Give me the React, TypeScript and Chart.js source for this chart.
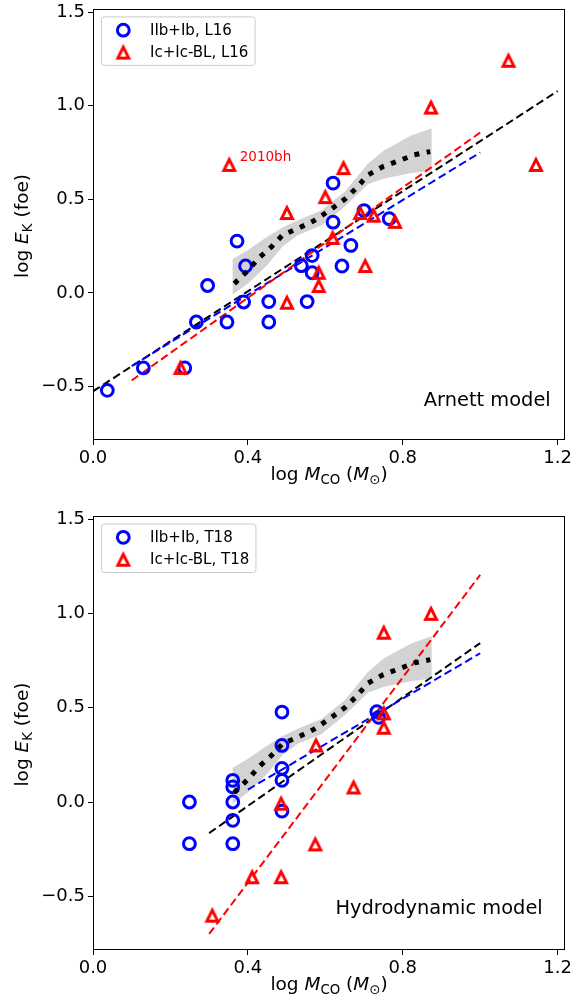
import React, { useEffect, useRef } from "react";
import { Chart, registerables } from "chart.js";

Chart.register(...registerables);

const FONT = '"DejaVu Sans", "Liberation Sans", sans-serif';

// ---- axes ----
const xTicks = [0.0, 0.4, 0.8, 1.2];
const yTicks = [-0.5, 0.0, 0.5, 1.0, 1.5];
const xMin = 0.0;
const xMax = 1.219;
const yMin = -0.785;
const yMax = 1.517;

// ---- model band (same in both panels) ----
const bandX = [0.36, 0.4, 0.45, 0.49, 0.53, 0.59, 0.65, 0.71, 0.75, 0.82, 0.875];
const bandUpper = [0.18, 0.23, 0.3, 0.35, 0.39, 0.44, 0.54, 0.69, 0.76, 0.84, 0.88];
const bandLower = [-0.01, 0.05, 0.15, 0.25, 0.31, 0.36, 0.46, 0.58, 0.61, 0.64, 0.655];
const modelLineX = [0.365, 0.4, 0.43, 0.46, 0.49, 0.53, 0.57, 0.61, 0.65, 0.68, 0.71, 0.75, 0.79, 0.83, 0.871];
const modelLineY = [0.05, 0.12, 0.19, 0.245, 0.31, 0.345, 0.385, 0.44, 0.5, 0.56, 0.63, 0.676, 0.706, 0.738, 0.755];

// ---- top panel: Arnett model, L16 ----
const arnettIIbX = [0.037, 0.13, 0.237, 0.267, 0.296, 0.346, 0.372, 0.394, 0.389, 0.454, 0.454, 0.538, 0.553, 0.566, 0.566, 0.62, 0.62, 0.643, 0.666, 0.7, 0.765];
const arnettIIbY = [-0.52, -0.4, -0.4, -0.155, 0.04, -0.155, 0.277, 0.144, -0.048, -0.046, -0.155, 0.146, -0.046, 0.2, 0.108, 0.587, 0.378, 0.144, 0.254, 0.44, 0.397];
const arnettIcX = [0.226, 0.352, 0.501, 0.501, 0.583, 0.583, 0.6, 0.619, 0.647, 0.69, 0.703, 0.725, 0.78, 0.873, 1.073, 1.144];
const arnettIcY = [-0.4, 0.684, 0.427, -0.052, 0.108, 0.037, 0.512, 0.294, 0.667, 0.427, 0.144, 0.413, 0.38, 0.99, 1.24, 0.684];
const arnettFitAllX = [0.0, 1.2];
const arnettFitAllY = [-0.525, 1.078];
const arnettFitIIbX = [0.1, 1.0];
const arnettFitIIbY = [-0.39, 0.75];
const arnettFitIcX = [0.1, 1.0];
const arnettFitIcY = [-0.467, 0.857];
const arnettNoteText = "2010bh";
const arnettNoteX = 0.379;
const arnettNoteY = 0.707;

// ---- bottom panel: Hydrodynamic model, T18 ----
const hydroIIbX = [0.249, 0.249, 0.361, 0.361, 0.361, 0.361, 0.361, 0.488, 0.488, 0.488, 0.488, 0.488, 0.733, 0.738];
const hydroIIbY = [0.0, -0.221, 0.115, 0.08, 0.0, -0.097, -0.221, 0.477, 0.3, 0.178, 0.115, -0.048, 0.479, 0.449];
const hydroIcX = [0.308, 0.411, 0.486, 0.486, 0.574, 0.576, 0.673, 0.751, 0.751, 0.751, 0.873];
const hydroIcY = [-0.603, -0.399, -0.399, -0.009, -0.225, 0.3, 0.077, 0.47, 0.394, 0.898, 0.998];
const hydroFitAllX = [0.3, 1.0];
const hydroFitAllY = [-0.165, 0.843];
const hydroFitIIbX = [0.4, 1.0];
const hydroFitIIbY = [0.066, 0.789];
const hydroFitIcX = [0.3, 1.0];
const hydroFitIcY = [-0.7, 1.205];

const BLUE = "#0000ff";
const RED = "#ff0000";

type Part = { t: string; it?: boolean; sub?: boolean };

function drawRich(ctx: CanvasRenderingContext2D, parts: Part[], x: number, y: number, size: number) {
  const fontOf = (p: Part) => `${p.it ? "italic " : ""}${p.sub ? size * 0.72 : size}px ${FONT}`;
  let total = 0;
  const widths = parts.map((p) => {
    ctx.font = fontOf(p);
    const w = ctx.measureText(p.t).width;
    total += w;
    return w;
  });
  let cx = x - total / 2;
  ctx.textAlign = "left";
  ctx.textBaseline = "alphabetic";
  parts.forEach((p, i) => {
    ctx.font = fontOf(p);
    ctx.fillText(p.t, cx, y + (p.sub ? size * 0.2 : 0));
    cx += widths[i];
  });
}

function makeTriangle(half: number, lw: number, color: string) {
  const size = 22;
  const c = document.createElement("canvas");
  c.width = size;
  c.height = size;
  const g = c.getContext("2d")!;
  const m = size / 2;
  g.beginPath();
  g.moveTo(m, m - half);
  g.lineTo(m - half, m + half);
  g.lineTo(m + half, m + half);
  g.closePath();
  g.lineWidth = lw;
  g.strokeStyle = color;
  g.lineJoin = "miter";
  g.stroke();
  return c;
}

const xy = (xs: number[], ys: number[]) => xs.map((x, i) => ({ x, y: ys[i] }));

type PanelCfg = {
  iibX: number[]; iibY: number[]; icX: number[]; icY: number[];
  fitAllX: number[]; fitAllY: number[]; fitIIbX: number[]; fitIIbY: number[]; fitIcX: number[]; fitIcY: number[];
  legendBlue: string; legendRed: string;
  model: string; modelRightInset: number; modelBottomInset: number;
  topPad: number; xAxisHeight: number;
  note?: { text: string; x: number; y: number };
};

function buildChart(canvas: HTMLCanvasElement, cfg: PanelCfg) {
  const tri = makeTriangle(5.5, 2.9, RED);
  const dashed = (xs: number[], ys: number[], color: string, order: number) => ({
    data: xy(xs, ys),
    showLine: true,
    borderColor: color,
    borderWidth: 2,
    borderDash: [8, 4],
    pointRadius: 0,
    fill: false,
    order,
  });

  const overlay = {
    id: "overlay",
    afterDatasetsDraw(chart: any) {
      const ctx = chart.ctx as CanvasRenderingContext2D;
      const ca = chart.chartArea;
      ctx.save();
      ctx.strokeStyle = "#000";
      ctx.lineWidth = 1;
      ctx.strokeRect(Math.round(ca.left) + 0.5, Math.round(ca.top) + 0.5, Math.round(ca.right - ca.left) - 1, Math.round(ca.bottom - ca.top) - 1);
      ctx.restore();
    },
    afterDraw(chart: any) {
      const ctx = chart.ctx as CanvasRenderingContext2D;
      const ca = chart.chartArea;
      ctx.save();
      ctx.fillStyle = "#000";
      // x title
      drawRich(ctx, [
        { t: "log " }, { t: "M", it: true }, { t: "CO", sub: true }, { t: " (" }, { t: "M", it: true }, { t: "\u2299", sub: true }, { t: ")" },
      ], (ca.left + ca.right) / 2, ca.bottom + 40.4, 18.5);
      // y title
      ctx.save();
      ctx.translate(28, (ca.top + ca.bottom) / 2 + 1.5);
      ctx.rotate(-Math.PI / 2);
      drawRich(ctx, [{ t: "log " }, { t: "E", it: true }, { t: "K", sub: true }, { t: " (foe)" }], 0, 0, 18.5);
      ctx.restore();
      // model label
      ctx.font = `19.4px ${FONT}`;
      ctx.textAlign = "right";
      ctx.textBaseline = "alphabetic";
      ctx.fillText(cfg.model, ca.right - cfg.modelRightInset, ca.bottom - cfg.modelBottomInset);
      // annotation
      if (cfg.note) {
        const px = chart.scales.x.getPixelForValue(cfg.note.x);
        const py = chart.scales.y.getPixelForValue(cfg.note.y);
        ctx.fillStyle = RED;
        ctx.font = `13.5px ${FONT}`;
        ctx.textAlign = "left";
        ctx.fillText(cfg.note.text, px, py);
      }
      // legend
      ctx.font = `15px ${FONT}`;
      const tw = Math.max(ctx.measureText(cfg.legendBlue).width, ctx.measureText(cfg.legendRed).width);
      const bx = ca.left + 8.4;
      const by = ca.top + 8;
      const bw = 57 - 8.4 + tw + 6.7;
      const bh = 48.5;
      const r = 3;
      ctx.beginPath();
      ctx.moveTo(bx + r, by);
      ctx.lineTo(bx + bw - r, by);
      ctx.arcTo(bx + bw, by, bx + bw, by + r, r);
      ctx.lineTo(bx + bw, by + bh - r);
      ctx.arcTo(bx + bw, by + bh, bx + bw - r, by + bh, r);
      ctx.lineTo(bx + r, by + bh);
      ctx.arcTo(bx, by + bh, bx, by + bh - r, r);
      ctx.lineTo(bx, by + r);
      ctx.arcTo(bx, by, bx + r, by, r);
      ctx.closePath();
      ctx.fillStyle = "rgba(255,255,255,0.8)";
      ctx.fill();
      ctx.strokeStyle = "#cccccc";
      ctx.lineWidth = 1;
      ctx.stroke();
      // markers
      ctx.beginPath();
      ctx.arc(ca.left + 30.3, by + 13.3, 5.9, 0, Math.PI * 2);
      ctx.strokeStyle = BLUE;
      ctx.lineWidth = 3;
      ctx.stroke();
      ctx.drawImage(tri, ca.left + 30.3 - tri.width / 2, by + 35.7 - tri.height / 2);
      ctx.fillStyle = "#000";
      ctx.textAlign = "left";
      ctx.font = `15px ${FONT}`;
      ctx.fillText(cfg.legendBlue, ca.left + 57, by + 18.3);
      ctx.fillText(cfg.legendRed, ca.left + 57, by + 40);
      ctx.restore();
    },
  };

  const fmt = (v: number) => v.toFixed(1).replace("-", "\u2212");

  return new Chart(canvas, {
    type: "scatter",
    data: {
      datasets: [
        {
          data: xy(bandX, bandUpper),
          showLine: true,
          borderWidth: 0,
          pointRadius: 0,
          backgroundColor: "#d3d3d3",
          fill: { target: 1 },
          order: 10,
        } as any,
        {
          data: xy(bandX, bandLower),
          showLine: true,
          borderWidth: 0,
          pointRadius: 0,
          fill: false,
          order: 11,
        },
        dashed(cfg.fitAllX, cfg.fitAllY, "#000000", 5),
        dashed(cfg.fitIIbX, cfg.fitIIbY, BLUE, 4),
        dashed(cfg.fitIcX, cfg.fitIcY, RED, 3),
        {
          data: xy(cfg.iibX, cfg.iibY),
          pointStyle: "circle",
          pointRadius: 5.9,
          pointBorderWidth: 3,
          pointBorderColor: BLUE,
          pointBackgroundColor: "rgba(0,0,0,0)",
          order: 2,
        },
        {
          data: xy(cfg.icX, cfg.icY),
          pointStyle: tri as any,
          pointRadius: 6,
          order: 1,
        },
        {
          data: xy(modelLineX, modelLineY),
          showLine: true,
          borderColor: "#000000",
          borderWidth: 5,
          borderDash: [5, 7.5],
          borderCapStyle: "butt",
          pointRadius: 0,
          fill: false,
          order: 0,
        },
      ],
    },
    options: {
      animation: false,
      responsive: false,
      devicePixelRatio: 1,
      events: [],
      layout: { padding: { left: 0, right: 17, top: cfg.topPad, bottom: 0 } },
      plugins: { legend: { display: false }, tooltip: { enabled: false } },
      scales: {
        x: {
          type: "linear",
          min: xMin,
          max: xMax,
          afterBuildTicks: (s: any) => { s.ticks = xTicks.map((v) => ({ value: v })); },
          afterFit: (s: any) => { s.height = cfg.xAxisHeight; s.paddingLeft = 0; s.paddingRight = 0; },
          border: { display: false },
          grid: { drawOnChartArea: false, drawTicks: true, tickLength: 5, color: "#000", lineWidth: 1 },
          ticks: { color: "#000", font: { family: FONT, size: 18 }, padding: 3, maxRotation: 0, autoSkip: false, callback: (v: any) => fmt(Number(v)) },
        },
        y: {
          type: "linear",
          min: yMin,
          max: yMax,
          afterBuildTicks: (s: any) => { s.ticks = yTicks.map((v) => ({ value: v })); },
          afterFit: (s: any) => { s.width = 93; s.paddingTop = 0; s.paddingBottom = 0; },
          border: { display: false },
          grid: { drawOnChartArea: false, drawTicks: true, tickLength: 5, color: "#000", lineWidth: 1 },
          ticks: { color: "#000", font: { family: FONT, size: 18 }, padding: 3, autoSkip: false, callback: (v: any) => fmt(Number(v)) },
        },
      },
    } as any,
    plugins: [overlay],
  });
}

export default function App() {
  const ref1 = useRef<HTMLCanvasElement>(null);
  const ref2 = useRef<HTMLCanvasElement>(null);

  useEffect(() => {
    const c1 = buildChart(ref1.current!, {
      iibX: arnettIIbX, iibY: arnettIIbY, icX: arnettIcX, icY: arnettIcY,
      fitAllX: arnettFitAllX, fitAllY: arnettFitAllY, fitIIbX: arnettFitIIbX, fitIIbY: arnettFitIIbY,
      fitIcX: arnettFitIcX, fitIcY: arnettFitIcY,
      legendBlue: "IIb+Ib, L16", legendRed: "Ic+Ic-BL, L16",
      model: "Arnett model", modelRightInset: 14.3, modelBottomInset: 34.3,
      topPad: 7, xAxisHeight: 61,
      note: { text: arnettNoteText, x: arnettNoteX, y: arnettNoteY },
    });
    const c2 = buildChart(ref2.current!, {
      iibX: hydroIIbX, iibY: hydroIIbY, icX: hydroIcX, icY: hydroIcY,
      fitAllX: hydroFitAllX, fitAllY: hydroFitAllY, fitIIbX: hydroFitIIbX, fitIIbY: hydroFitIIbY,
      fitIcX: hydroFitIcX, fitIcY: hydroFitIcY,
      legendBlue: "IIb+Ib, T18", legendRed: "Ic+Ic-BL, T18",
      model: "Hydrodynamic model", modelRightInset: 22.3, modelBottomInset: 36,
      topPad: 15, xAxisHeight: 52,
    });
    return () => {
      c1.destroy();
      c2.destroy();
    };
  }, []);

  return (
    <div style={{ position: "absolute", left: 0, top: 0, width: 582, height: 1002, background: "#fff" }}>
      <canvas ref={ref1} width={582} height={501} style={{ position: "absolute", left: 0, top: 0, width: 582, height: 501 }} />
      <canvas ref={ref2} width={582} height={501} style={{ position: "absolute", left: 0, top: 501, width: 582, height: 501 }} />
    </div>
  );
}
